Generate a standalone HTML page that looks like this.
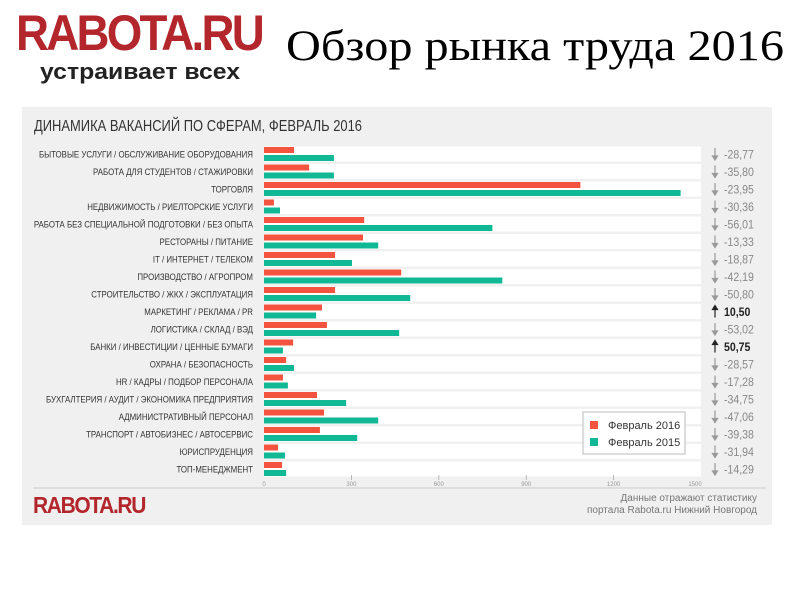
<!DOCTYPE html>
<html><head><meta charset="utf-8">
<style>
html,body{margin:0;padding:0;background:#fff;width:800px;height:600px;overflow:hidden}
svg text{font-family:"Liberation Sans",sans-serif}
</style></head>
<body>
<svg width="800" height="600" viewBox="0 0 800 600" xmlns="http://www.w3.org/2000/svg">
<text x="16" y="50" font-weight="bold" font-size="50" fill="#b3262c" letter-spacing="-3" textLength="246" lengthAdjust="spacingAndGlyphs">RABOTA.RU</text>
<text x="40" y="79" font-weight="bold" font-size="22" fill="#222" textLength="200" lengthAdjust="spacingAndGlyphs">устраивает всех</text>
<text x="286" y="60" font-size="43" fill="#000" textLength="498" lengthAdjust="spacingAndGlyphs" style="font-family:'Liberation Serif',serif">Обзор рынка труда 2016</text>
<rect x="22" y="107" width="750" height="418" fill="#f0f0f0"/>
<text x="34" y="131" font-size="16" fill="#333" textLength="328" lengthAdjust="spacingAndGlyphs">ДИНАМИКА ВАКАНСИЙ ПО СФЕРАМ, ФЕВРАЛЬ 2016</text>
<g id="chart"></g>
<line x1="33" y1="488" x2="766" y2="488" stroke="#d8d8d8" stroke-width="1.5"/>
<text x="33" y="513" font-weight="bold" font-size="23" fill="#b3262c" letter-spacing="-1.5" textLength="112" lengthAdjust="spacingAndGlyphs">RABOTA.RU</text>
<text x="757" y="501" font-size="10" fill="#777" text-anchor="end">Данные отражают статистику</text>
<text x="757" y="513" font-size="10" fill="#777" text-anchor="end">портала Rabota.ru Нижний Новгород</text>
<g>
<rect x="583" y="412" width="102" height="42" fill="#fff" stroke="#bbb"/>
<rect x="590" y="421" width="8" height="8" fill="#f4533f"/>
<text x="608" y="429" font-size="11" fill="#333">Февраль 2016</text>
<rect x="590" y="438" width="8" height="8" fill="#10b895"/>
<text x="608" y="446" font-size="11" fill="#333">Февраль 2015</text>
</g>
</svg>
<script>
const categories=["БЫТОВЫЕ УСЛУГИ / ОБСЛУЖИВАНИЕ ОБОРУДОВАНИЯ","РАБОТА ДЛЯ СТУДЕНТОВ / СТАЖИРОВКИ","ТОРГОВЛЯ","НЕДВИЖИМОСТЬ / РИЕЛТОРСКИЕ УСЛУГИ","РАБОТА БЕЗ СПЕЦИАЛЬНОЙ ПОДГОТОВКИ / БЕЗ ОПЫТА","РЕСТОРАНЫ / ПИТАНИЕ","IT / ИНТЕРНЕТ / ТЕЛЕКОМ","ПРОИЗВОДСТВО / АГРОПРОМ","СТРОИТЕЛЬСТВО / ЖКХ / ЭКСПЛУАТАЦИЯ","МАРКЕТИНГ / РЕКЛАМА / PR","ЛОГИСТИКА / СКЛАД / ВЭД","БАНКИ / ИНВЕСТИЦИИ / ЦЕННЫЕ БУМАГИ","ОХРАНА / БЕЗОПАСНОСТЬ","HR / КАДРЫ / ПОДБОР ПЕРСОНАЛА","БУХГАЛТЕРИЯ / АУДИТ / ЭКОНОМИКА ПРЕДПРИЯТИЯ","АДМИНИСТРАТИВНЫЙ ПЕРСОНАЛ","ТРАНСПОРТ / АВТОБИЗНЕС / АВТОСЕРВИС","ЮРИСПРУДЕНЦИЯ","ТОП-МЕНЕДЖМЕНТ"];
const feb2016=[103,155,1086,34,344,340,244,471,244,199,216,100,76,65,182,206,192,48,62];
const feb2015=[240,240,1430,55,784,392,302,818,502,179,464,65,103,82,282,392,320,72,76];
const changes=["-28,77","-35,80","-23,95","-30,36","-56,01","-13,33","-18,87","-42,19","-50,80","10,50","-53,02","50,75","-28,57","-17,28","-34,75","-47,06","-39,38","-31,94","-14,29"];
const ticks=[0,300,600,900,1200,1500];
const NS="http://www.w3.org/2000/svg";
const g=document.getElementById('chart');
const x0=264,xMax=1500,plotW=437;
const xs=v=>x0+v/xMax*plotW;
const rowTop=i=>147+i*17.5;
function mk(tag,attrs){const e=document.createElementNS(NS,tag);for(const k in attrs)e.setAttribute(k,attrs[k]);g.appendChild(e);return e;}
categories.forEach((c,i)=>{
  const y=rowTop(i);
  const strip=mk('rect',{x:x0,y:y-0.5,width:plotW,height:15,fill:'#fff'});
  
  
  const lab=mk('text',{x:0,y:0,'font-size':9.5,fill:'#333','text-anchor':'end',transform:`translate(253,${y+10.5}) scale(0.83,1)`});
  lab.textContent=c;
  
  
  const r=mk('rect',{x:x0,y:y,width:xs(feb2016[i])-x0,height:6,fill:'#f4533f'});
  
  
  const gr=mk('rect',{x:x0,y:y+8,width:xs(feb2015[i])-x0,height:6,fill:'#10b895'});
  
  
  const up=changes[i][0]!=='-';
  const ax=715,col=up?'#222':'#999';
  const ar=mk('path',{d:up?`M${ax} ${y+1}l-2.5 4h5z M${ax} ${y+4}v9`:`M${ax} ${y+1}v9 M${ax} ${y+13}l-2.5 -4h5z`,stroke:col,fill:col,'stroke-width':1.2});
  
  
  const t=mk('text',{x:0,y:0,'font-size':12,fill:up?'#222':'#888','font-weight':up?'bold':'normal',transform:`translate(724,${y+11.5}) scale(0.88,1)`});
  t.textContent=changes[i];
  
  
});
ticks.forEach((v,i)=>{
  if(i>0&&i<ticks.length-1){
    const tl=mk('line',{x1:xs(v),x2:xs(v),y1:475,y2:480,stroke:'#aaa','stroke-width':0.8});
    
    
  }
  const tt=mk('text',{x:i===ticks.length-1?xs(v)-6:xs(v),y:486,'font-size':6,fill:'#999','text-anchor':'middle'});
  tt.textContent=v;
  
  
});
</script>
</body></html>
